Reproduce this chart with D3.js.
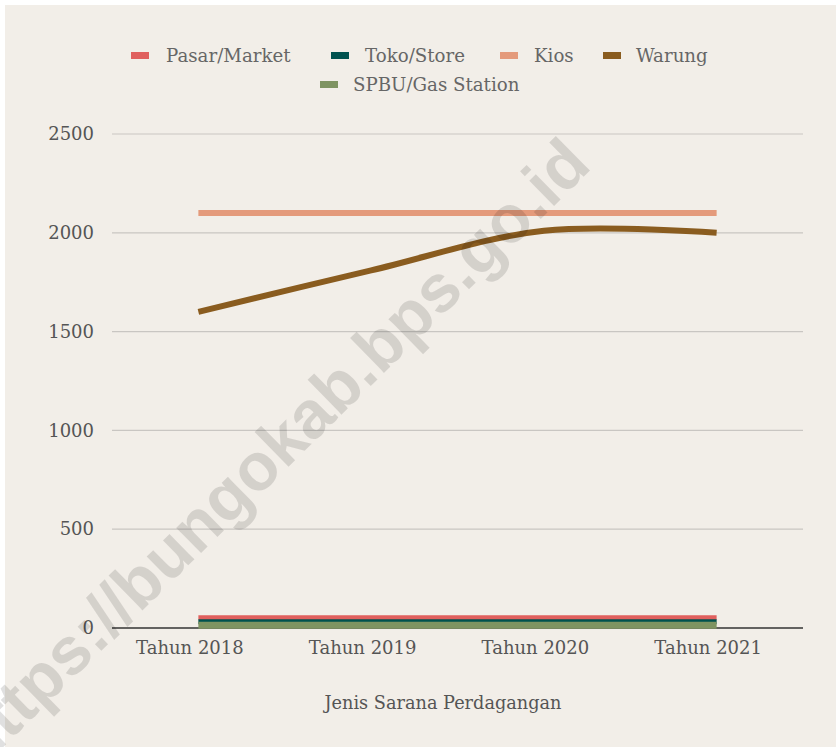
<!DOCTYPE html>
<html><head><meta charset="utf-8">
<script src="https://cdn.jsdelivr.net/npm/d3@7"></script>
<style>
html,body{margin:0;padding:0;background:#ffffff;}
svg{display:block;}
</style></head>
<body>
<svg id="chart" width="836" height="747"></svg>
<script>
const categories = ["Tahun 2018", "Tahun 2019", "Tahun 2020", "Tahun 2021"];
const seriesNames = ["Pasar/Market", "Toko/Store", "Kios", "Warung", "SPBU/Gas Station"];
const pasar = [52, 52, 52, 52];
const toko = [32, 32, 32, 32];
const kios = [2100, 2100, 2100, 2100];
const warung = [1600, 1810, 2010, 2000];
const spbu = [14, 14, 14, 14];
const yTicks = [0, 500, 1000, 1500, 2000, 2500];
const colors = ["#e0605e", "#00524f", "#e49a7b", "#8a5c1f", "#7f9462"];

(function () {
const series = [
  {name: seriesNames[0], values: pasar, color: colors[0], width: 5},
  {name: seriesNames[1], values: toko, color: colors[1], width: 5},
  {name: seriesNames[2], values: kios, color: colors[2], width: 6},
  {name: seriesNames[3], values: warung, color: colors[3], width: 6},
  {name: seriesNames[4], values: spbu, color: colors[4], width: 7}
];

const svg = d3.select("#chart");
const W = 836, H = 747;
svg.append("rect").attr("x", 5).attr("y", 5).attr("width", W - 5).attr("height", H - 5).attr("fill", "#f2eee8");

const mLeft = 112, mRight = 803, mTop = 134, mBottom = 628;
const x = d3.scalePoint().domain(categories).range([mLeft, mRight]).padding(0.5);
const y = d3.scaleLinear().domain([0, 2500]).range([mBottom, mTop]);

const font = "'DejaVu Serif', Georgia, serif";

// gridlines
svg.append("g").selectAll("line").data(yTicks.filter(t => t !== 0)).join("line")
  .attr("x1", mLeft).attr("x2", mRight)
  .attr("y1", d => y(d)).attr("y2", d => y(d))
  .attr("stroke", "#c9c6c2").attr("stroke-width", 1.2);

// y axis labels
const yAxis = svg.append("g").attr("transform", `translate(${mLeft},0)`)
  .call(d3.axisLeft(y).tickValues(yTicks).tickFormat(d3.format("d")).tickSize(0).tickPadding(18));
yAxis.select(".domain").remove();
yAxis.selectAll("text").attr("font-family", font).attr("font-size", 18).attr("fill", "#555");

// x axis
const xAxis = svg.append("g").attr("transform", `translate(0,${mBottom})`)
  .call(d3.axisBottom(x).tickSize(0).tickPadding(13));
xAxis.select(".domain").attr("d", `M${mLeft},0H${mRight}`).attr("stroke", "#333").attr("stroke-width", 1.5);
xAxis.selectAll("text").attr("font-family", font).attr("font-size", 18).attr("fill", "#555").attr("dx", -9);

svg.append("text").attr("x", 443).attr("y", 709).attr("text-anchor", "middle")
  .attr("font-family", font).attr("font-size", 17.7).attr("fill", "#555")
  .text("Jenis Sarana Perdagangan");

// lines
const line = d3.line().x((d, i) => x(categories[i])).y(d => y(d)).curve(d3.curveCatmullRom.alpha(0.5));
svg.append("g").selectAll("path").data(series).join("path")
  .attr("d", d => line(d.values))
  .attr("fill", "none").attr("stroke", d => d.color).attr("stroke-width", d => d.width);

// legend
const legendItems = [
  {s: series[0], sx: 131, tx: 166, y: 56},
  {s: series[1], sx: 331, tx: 365, y: 56},
  {s: series[2], sx: 500, tx: 534, y: 56},
  {s: series[3], sx: 603, tx: 636, y: 56},
  {s: series[4], sx: 320, tx: 353, y: 85}
];
const lg = svg.append("g").selectAll("g").data(legendItems).join("g");
lg.append("rect").attr("x", d => d.sx).attr("y", d => d.y - 4).attr("width", 18).attr("height", 7)
  .attr("fill", d => d.s.color);
lg.append("text").attr("x", d => d.tx).attr("y", d => d.y + 6)
  .attr("font-family", font).attr("font-size", 18.2).attr("fill", "#666")
  .text(d => d.s.name);

// watermark
svg.append("text")
  .attr("transform", "translate(-20,770) rotate(-44.5)")
  .attr("font-family", "'Liberation Sans', Arial, sans-serif").attr("font-weight", "bold")
  .attr("font-size", 67).attr("fill", "#000").attr("fill-opacity", 0.12)
  .text("https://bungokab.bps.go.id");
})();
</script>
</body></html>
